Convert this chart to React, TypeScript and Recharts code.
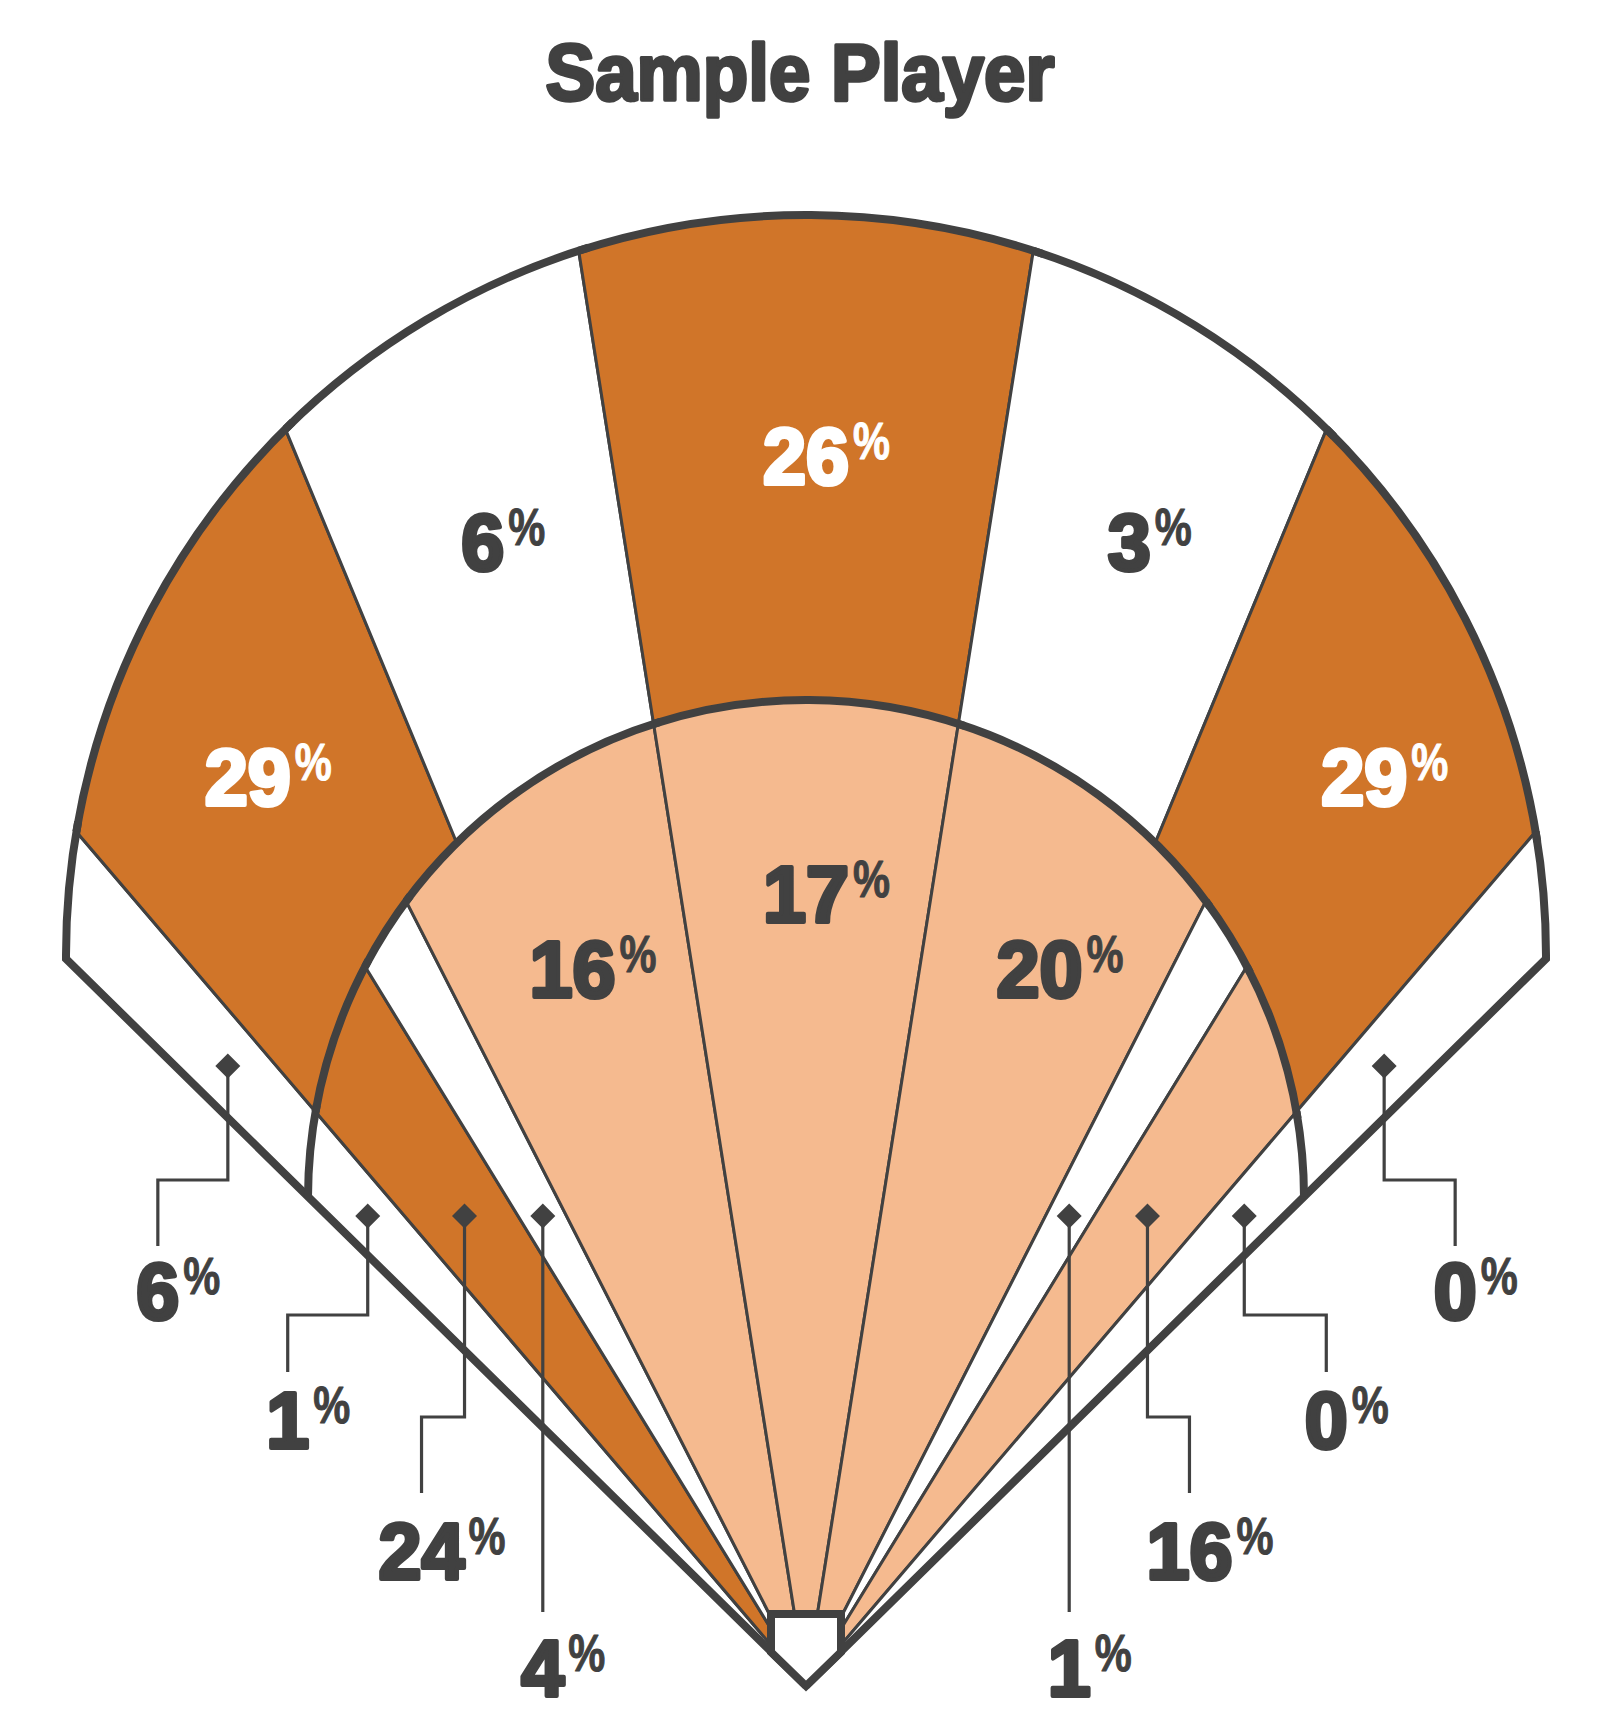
import React from 'react';
import { PieChart, Pie } from 'recharts';

// ---------------- data ----------------
const outfieldZones = ['LF Line', 'LF', 'LCF', 'CF', 'RCF', 'RF', 'RF Line'];
const outfieldSpan = [5, 18, 13.5, 18, 13.5, 18, 5]; // degrees of the fan each zone covers
const outfieldPct = [6, 29, 6, 26, 3, 29, 0];

const infieldZones = ['3B Line', '3B', '3B-SS Hole', 'SS', 'Middle', '2B', '2B-1B Hole', '1B', '1B Line'];
const infieldSpan = [5, 9, 4.5, 18, 18, 18, 4.5, 9, 5];
const infieldPct = [1, 24, 4, 16, 17, 20, 1, 16, 0];

const chartTitle = 'Sample Player';

// ---------------- styles ----------------
const ORANGE = '#D07529';
const PEACH = '#F5BA8F';
const WHITE = '#FFFFFF';
const INK = '#414141';
const outfieldFill = [WHITE, ORANGE, WHITE, ORANGE, WHITE, ORANGE, WHITE];
const infieldFill = [WHITE, ORANGE, WHITE, PEACH, PEACH, PEACH, WHITE, PEACH, WHITE];
const FONT = "'Liberation Sans Narrow', 'Liberation Sans', Arial, sans-serif";
const DIGIT_SIZE = 80;
const DIGIT_ADV = 43;
const DIGIT_STROKE = 4.2;

// ---------------- layout ----------------
const W = 1612;
const HGT = 1714;
const HOME_X = 806;
const HOME_Y = 1686;
const FOUL = 45.5; // half-angle of the fan
type Circ = { dy: number; r: number };
const OF_CIRCLE: Circ = { dy: -731, r: 740 };
const IF_CIRCLE: Circ = { dy: -488, r: 498 };
const ROW_BASE = [1319, 1448, 1579, 1696];
const ROW_END = [1246, 1372, 1493, 1612];
const DIAMOND_Y_OF = 1066;
const DIAMOND_Y_IF = 1216;
type CalloutLayout = { row: number; dx: number; jog?: number };
const CALLOUTS: Record<string, CalloutLayout> = {
  'OF:LF Line': { row: 0, dx: -70, jog: 1180 },
  'OF:RF Line': { row: 0, dx: 71, jog: 1180 },
  'IF:3B Line': { row: 1, dx: -80, jog: 1315 },
  'IF:3B': { row: 2, dx: -43, jog: 1417 },
  'IF:3B-SS Hole': { row: 3, dx: 0 },
  'IF:2B-1B Hole': { row: 3, dx: 0 },
  'IF:1B': { row: 2, dx: 42, jog: 1417 },
  'IF:1B Line': { row: 1, dx: 82, jog: 1315 },
};

const ofData = outfieldZones.map((zone, i) => ({ zone, span: outfieldSpan[i], pct: outfieldPct[i] }));
const ifData = infieldZones.map((zone, i) => ({ zone, span: infieldSpan[i], pct: infieldPct[i] }));

// ---------------- geometry helpers ----------------
function hit(cx: number, cy: number, angle: number, c: Circ) {
  const rad = (angle * Math.PI) / 180;
  const ux = Math.cos(rad);
  const uy = -Math.sin(rad);
  const hy = -c.dy;
  const b = uy * hy;
  const k = hy * hy - c.r * c.r;
  const t = -b + Math.sqrt(b * b - k);
  return { x: cx + t * ux, y: cy + t * uy, t };
}
function along(cx: number, cy: number, angle: number, t: number) {
  const rad = (angle * Math.PI) / 180;
  return { x: cx + t * Math.cos(rad), y: cy - t * Math.sin(rad) };
}
const f = (n: number) => n.toFixed(2);
const midOf = (p: any) => (typeof p.midAngle === 'number' ? p.midAngle : (p.startAngle + p.endAngle) / 2);
const pctOf = (p: any) => (p.payload && typeof p.payload.pct === 'number' ? p.payload.pct : p.pct);

// ---------------- label pieces ----------------
function Pct({ x, base, value, color }: { x: number; base: number; value: number; color: string }) {
  const s = String(value);
  const w = s.length * DIGIT_ADV;
  return (
    <g>
      <text
        x={x}
        y={base}
        textAnchor="middle"
        textLength={w}
        lengthAdjust="spacingAndGlyphs"
        style={{ fontFamily: FONT, fontWeight: 700, fontSize: DIGIT_SIZE }}
        fill={color}
        stroke={color}
        strokeWidth={DIGIT_STROKE}
        strokeLinejoin="round"
      >
        {s}
      </text>
      <text
        x={x + w / 2 + 4}
        y={base - 25}
        textAnchor="start"
        textLength={37}
        lengthAdjust="spacingAndGlyphs"
        style={{ fontFamily: FONT, fontWeight: 700, fontSize: 51 }}
        fill={color}
        stroke={color}
        strokeWidth={1}
        strokeLinejoin="round"
      >
        %
      </text>
    </g>
  );
}

function Callout({ cx, cy, mid, diamondY, layout, value }: { cx: number; cy: number; mid: number; diamondY: number; layout: CalloutLayout; value: number }) {
  const rad = (mid * Math.PI) / 180;
  const t = (cy - diamondY) / Math.sin(rad);
  const x = cx + t * Math.cos(rad);
  const lx = x + layout.dx;
  const end = ROW_END[layout.row];
  const d =
    layout.jog != null
      ? `M${f(x)},${diamondY}V${layout.jog}H${f(lx)}V${end}`
      : `M${f(x)},${diamondY}V${end}`;
  const s = 12.5;
  return (
    <g>
      <path d={d} fill="none" stroke={INK} strokeWidth={3.2} strokeLinejoin="miter" />
      <path d={`M${f(x)},${diamondY - s}L${f(x + s)},${diamondY}L${f(x)},${diamondY + s}L${f(x - s)},${diamondY}Z`} fill={INK} />
      <Pct x={lx} base={ROW_BASE[layout.row]} value={value} color={INK} />
    </g>
  );
}

// ---------------- renderers (driven by the Pie layout) ----------------
const renderOfZone = (p: any) => {
  const { cx, cy, startAngle, endAngle, index } = p;
  const p1 = hit(cx, cy, startAngle, IF_CIRCLE);
  const p2 = hit(cx, cy, startAngle, OF_CIRCLE);
  const p3 = hit(cx, cy, endAngle, OF_CIRCLE);
  const p4 = hit(cx, cy, endAngle, IF_CIRCLE);
  const d = `M${f(p1.x)},${f(p1.y)}L${f(p2.x)},${f(p2.y)}A${OF_CIRCLE.r},${OF_CIRCLE.r} 0 0 1 ${f(p3.x)},${f(p3.y)}L${f(p4.x)},${f(p4.y)}A${IF_CIRCLE.r},${IF_CIRCLE.r} 0 0 0 ${f(p1.x)},${f(p1.y)}Z`;
  return <path d={d} fill={outfieldFill[index]} stroke={INK} strokeWidth={3} />;
};

const renderIfZone = (p: any) => {
  const { cx, cy, startAngle, endAngle, index } = p;
  const q1 = hit(cx, cy, startAngle, IF_CIRCLE);
  const q2 = hit(cx, cy, endAngle, IF_CIRCLE);
  const d = `M${f(cx)},${f(cy)}L${f(q1.x)},${f(q1.y)}A${IF_CIRCLE.r},${IF_CIRCLE.r} 0 0 1 ${f(q2.x)},${f(q2.y)}Z`;
  return <path d={d} fill={infieldFill[index]} stroke={INK} strokeWidth={3} />;
};

const renderOfFrame = (p: any) => {
  const { cx, cy, startAngle, endAngle, index } = p;
  const last = outfieldZones.length - 1;
  const a = hit(cx, cy, startAngle, OF_CIRCLE);
  const b = hit(cx, cy, index === last ? endAngle : endAngle - 0.4, OF_CIRCLE);
  let d = `M${f(a.x)},${f(a.y)}A${OF_CIRCLE.r},${OF_CIRCLE.r} 0 0 1 ${f(b.x)},${f(b.y)}`;
  if (index === 0) d = `M${f(cx)},${f(cy)}L${f(a.x)},${f(a.y)}A${OF_CIRCLE.r},${OF_CIRCLE.r} 0 0 1 ${f(b.x)},${f(b.y)}`;
  if (index === last) d += `L${f(cx)},${f(cy)}`;
  return <path d={d} fill="none" stroke={INK} strokeWidth={8} strokeLinejoin="miter" strokeMiterlimit={10} />;
};

const renderIfFrame = (p: any) => {
  const { cx, cy, startAngle, endAngle, index } = p;
  const last = infieldZones.length - 1;
  const a = hit(cx, cy, startAngle, IF_CIRCLE);
  const b = hit(cx, cy, index === last ? endAngle : endAngle - 0.4, IF_CIRCLE);
  const d = `M${f(a.x)},${f(a.y)}A${IF_CIRCLE.r},${IF_CIRCLE.r} 0 0 1 ${f(b.x)},${f(b.y)}`;
  const plate = `M${f(cx - 35)},${f(cy - 72)}H${f(cx + 35)}V${f(cy - 34)}L${f(cx)},${f(cy)}L${f(cx - 35)},${f(cy - 34)}Z`;
  return (
    <g>
      <path d={d} fill="none" stroke={INK} strokeWidth={8} />
      {index === last ? <path d={plate} fill={WHITE} stroke={INK} strokeWidth={8} strokeLinejoin="miter" /> : null}
    </g>
  );
};

const renderOfText = (p: any) => {
  const { cx, cy, index } = p;
  const mid = midOf(p);
  const value = pctOf(p);
  const layout = CALLOUTS['OF:' + outfieldZones[index]];
  if (layout) return <Callout cx={cx} cy={cy} mid={mid} diamondY={DIAMOND_Y_OF} layout={layout} value={value} />;
  const inner = hit(cx, cy, mid, IF_CIRCLE);
  const outer = hit(cx, cy, mid, OF_CIRCLE);
  const off = Math.abs(mid - 90);
  const t = (inner.t + outer.t) / 2 + 4 + 95 * (1 - Math.cos((off * Math.PI) / 180));
  const pt = along(cx, cy, mid, t);
  return <Pct x={pt.x} base={pt.y + 30} value={value} color={outfieldFill[index] === ORANGE ? WHITE : INK} />;
};

const renderIfText = (p: any) => {
  const { cx, cy, index } = p;
  const mid = midOf(p);
  const value = pctOf(p);
  const layout = CALLOUTS['IF:' + infieldZones[index]];
  if (layout) return <Callout cx={cx} cy={cy} mid={mid} diamondY={DIAMOND_Y_IF} layout={layout} value={value} />;
  const inner = hit(cx, cy, mid, IF_CIRCLE);
  const pt = along(cx, cy, mid, inner.t * 0.805);
  return <Pct x={pt.x} base={pt.y + 30} value={value} color={infieldFill[index] === ORANGE ? WHITE : INK} />;
};

const pieCommon = {
  cx: HOME_X,
  cy: HOME_Y,
  startAngle: 90 + FOUL,
  endAngle: 90 - FOUL,
  innerRadius: 0,
  outerRadius: 1,
  dataKey: 'span',
  nameKey: 'zone',
  isAnimationActive: false,
  labelLine: false,
  fill: 'none',
  stroke: 'none',
};

export default function App() {
  return (
    <div style={{ position: 'absolute', left: 0, top: 0, width: W, height: HGT, background: WHITE }}>
      <PieChart width={W} height={HGT} margin={{ top: 0, right: 0, bottom: 0, left: 0 }}>
        <Pie {...pieCommon} data={ofData} label={renderOfZone} />
        <Pie {...pieCommon} data={ifData} label={renderIfZone} />
        <Pie {...pieCommon} data={ofData} label={renderOfFrame} />
        <Pie {...pieCommon} data={ifData} label={renderIfFrame} />
        <Pie {...pieCommon} data={ofData} label={renderOfText} />
        <Pie {...pieCommon} data={ifData} label={renderIfText} />
      </PieChart>
      <svg width={W} height={130} style={{ position: 'absolute', left: 0, top: 0, pointerEvents: 'none' }}>
        <text
          x={800}
          y={100}
          textAnchor="middle"
          textLength={509}
          lengthAdjust="spacingAndGlyphs"
          style={{ fontFamily: FONT, fontWeight: 700, fontSize: 80 }}
          fill={INK}
          stroke={INK}
          strokeWidth={3.5}
          strokeLinejoin="round"
        >
          {chartTitle}
        </text>
      </svg>
    </div>
  );
}
